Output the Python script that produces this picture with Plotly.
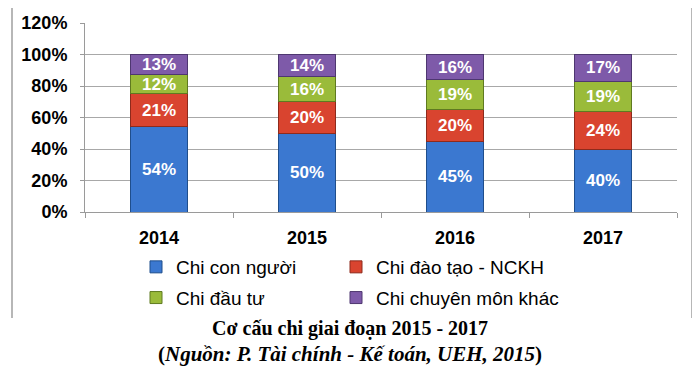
import plotly.graph_objects as go

years = ["2014", "2015", "2016", "2017"]
chi_con_nguoi = [54, 50, 45, 40]
chi_dao_tao = [21, 20, 20, 24]
chi_dau_tu = [12, 16, 19, 19]
chi_chuyen_mon = [13, 14, 16, 17]

series = [
    ("Chi con người", chi_con_nguoi, "#3b78d0", "#1f4e8c", "legend"),
    ("Chi đào tạo - NCKH", chi_dao_tao, "#d9442f", "#8e2a1c", "legend2"),
    ("Chi đầu tư", chi_dau_tu, "#9abb3a", "#5f7a20", "legend"),
    ("Chi chuyên môn khác", chi_chuyen_mon, "#7e5aa9", "#4e3770", "legend2"),
]

fig = go.Figure()
for i, (name, vals, col, edge, lg) in enumerate(series):
    fig.add_trace(go.Bar(
        x=years, y=vals, name=name,
        marker=dict(color=col, line=dict(color=edge, width=1)),
        text=[f"{v}%" for v in vals],
        textposition="inside", insidetextanchor="middle", textangle=0,
        textfont=dict(family="Arial", size=17, color="white"),
        texttemplate="<b>%{text}</b>",
        width=0.39, legend=lg, legendgroup=name,
    ))

# page body has an 8px margin; figure coordinates = screen coordinates - 8
OFF = 8
W, H = 700 - 2 * OFF, 378 - 2 * OFF
L, T = 85 - OFF, 23 - OFF
R = W - (677 - OFF)
B = H - (212 - OFF)
pw, ph = W - L - R, H - T - B
def px_x(p): return (p - OFF - L) / pw
def px_y(p): return (H - B - (p - OFF)) / ph

fig.update_layout(
    width=W, height=H, barmode="stack",
    margin=dict(l=L, r=R, t=T, b=B, autoexpand=False),
    paper_bgcolor="white", plot_bgcolor="white",
    font=dict(family="Arial", color="black"),
    uniformtext=dict(minsize=17, mode="show"),
    xaxis=dict(
        showline=True, linecolor="#9a9a9a", linewidth=1,
        ticks="outside", tickson="boundaries", ticklen=5, tickcolor="#9a9a9a",
        tickfont=dict(family="Arial", size=18, color="black"),
        tickprefix="<b>", ticksuffix="</b>", ticklabelstandoff=9,
        showgrid=False, automargin=False,
    ),
    yaxis=dict(
        range=[0, 120], dtick=20, ticksuffix="%",
        tickprefix="<b>", ticklabelstandoff=9,
        showline=True, linecolor="#9a9a9a", linewidth=1,
        ticks="outside", ticklen=4, tickcolor="#9a9a9a",
        showgrid=True, gridcolor="#a8a8a8", gridwidth=1,
        tickfont=dict(family="Arial", size=18, color="black"),
        zeroline=False, automargin=False,
    ),
    legend=dict(x=px_x(136), y=px_y(248), xanchor="left", yanchor="top",
                font=dict(family="Arial", size=19), tracegroupgap=3, itemwidth=30,
                bgcolor="rgba(0,0,0,0)"),
    legend2=dict(x=px_x(336), y=px_y(248), xanchor="left", yanchor="top",
                 font=dict(family="Arial", size=19), tracegroupgap=3, itemwidth=30,
                 bgcolor="rgba(0,0,0,0)"),
    showlegend=True,
)

fig.add_shape(type="path", xref="paper", yref="paper",
              path=f"M {px_x(12)} {px_y(318)} L {px_x(12)} {px_y(5)} L {px_x(692)} {px_y(5)} L {px_x(692)} {px_y(318)}",
              line=dict(color="#a0a0a0", width=1.5))

fig.add_annotation(xref="paper", yref="paper", x=px_x(350), y=px_y(328),
                   text="<b>Cơ cấu chi giai đoạn 2015 - 2017</b>", showarrow=False,
                   font=dict(family="Liberation Serif", size=20, color="black"),
                   xanchor="center", yanchor="middle")
fig.add_annotation(xref="paper", yref="paper", x=px_x(350), y=px_y(354),
                   text="<b>(<i>Nguồn: P. Tài chính - Kế toán, UEH, 2015</i>)</b>", showarrow=False,
                   font=dict(family="Liberation Serif", size=21, color="black"),
                   xanchor="center", yanchor="middle")

fig.write_html("out.html")
